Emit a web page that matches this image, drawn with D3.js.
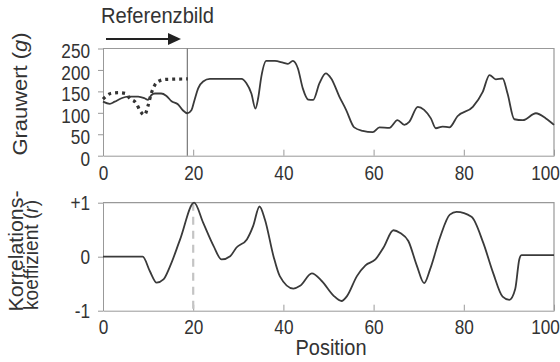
<!DOCTYPE html>
<html>
<head>
<meta charset="utf-8">
<script src="https://cdn.jsdelivr.net/npm/d3@7"></script>
<style>
  body { margin: 0; background: #fff; }
  svg { display: block; font-family: "Liberation Sans", Arial, sans-serif; }
  .axis path, .axis line { stroke: #999; }
  .axis text { fill: #333; font-size: 20px; font-family: inherit; }
</style>
</head>
<body>
<svg id="chart" width="560" height="362"></svg>
<script>
// grey value of the image row (solid) and the reference window (dotted)
var grauPos = [0, 1.5, 2.6, 4.1, 5.5, 7.8, 9.2, 10, 10.7, 11.5, 12.9, 14, 15.2, 16.6, 17.7, 18.7, 19.6, 20.3, 21.1, 22.2, 23.7,
    30.7, 31.8, 32.9, 33.8, 34.4, 35.1, 36.2, 38.1, 39.9, 41, 42.1, 43.2, 44.3, 45.5, 46.6, 48, 49.4,
    50.6, 52.4, 53.9, 55.7, 57.6, 59.8, 61.3, 63.5, 65.3, 66.8, 67.9, 69.8, 71.2, 72.7, 73.8, 75.3, 76.8,
    78.6, 82, 84.2, 85.7, 87.1, 88.6, 89.7, 91.2, 93.1, 96, 98.2, 100];
var grauWert = [126, 121, 126, 134, 138, 138, 134, 130, 141, 145, 145, 140, 127, 120, 106, 99, 106, 130, 157, 173, 179,
    179, 169, 145, 110, 134, 184, 221, 221, 217, 214, 221, 204, 157, 131, 130, 169, 192,
    180, 138, 107, 66, 58, 55, 66, 65, 83, 72, 79, 114, 107, 87, 64, 68, 66,
    92, 114, 149, 188, 178, 180, 145, 85, 83, 99, 87, 72];
var refPos = [0, 1.7, 3.5, 5, 5.9, 7.4, 8.1, 9.2, 10, 10.7, 11.5, 12.6, 14, 18.8];
var refWert = [132, 145, 147, 145, 134, 122, 107, 95, 117, 145, 165, 175, 178, 179];
var refX = 18.7;

// correlation coefficient per position
var korrPos = [0, 8.8, 10.4, 11.9, 13.4, 14.9, 17.1, 20.2, 22.2, 24.5, 26.3, 28.2, 29.6, 31.9, 33.3, 34.7, 35.9, 37.8, 39.2,
    42.2, 43.7, 46.3, 48.5, 51.1, 52.9, 54.1, 56.3, 58.2, 60.4, 62.2, 64.4, 65.9, 67.7, 69.6, 71.2, 72.5,
    74.7, 76.9, 78.4, 81.7, 84.3, 86.5, 88.6, 90.1, 91.4, 92.3, 92.8, 100];
var korrWert = [0, 0, -0.27, -0.48, -0.42, -0.17, 0.32, 1.0, 0.63, 0.2, -0.05, 0.01, 0.17, 0.32, 0.57, 0.93, 0.69, 0.01, -0.36,
    -0.59, -0.54, -0.31, -0.45, -0.72, -0.82, -0.73, -0.36, -0.16, -0.05, 0.17, 0.49, 0.44, 0.29, -0.17, -0.49, -0.24,
    0.35, 0.78, 0.83, 0.74, 0.26, -0.3, -0.74, -0.8, -0.6, -0.05, 0.03, 0.03];

var xTicks = [0, 20, 40, 60, 80, 100];
var grauTicks = [0, 50, 100, 150, 200, 250];
var korrTicks = [-1, 0, 1];
var korrLabels = {"-1": "-1", "0": "0", "1": "+1"};

var svg = d3.select('#chart');

var x = d3.scaleLinear().domain([0, 100]).range([103, 554]);
var yTop = d3.scaleLinear().domain([0, 250]).range([155.7, 48.5]);
var yBot = d3.scaleLinear().domain([-1, 1]).range([310.7, 202.7]);

function zip(a, b) {
    return a.map(function(d, i) { return [d, b[i]]; });
}

// the original uses a condensed face, squeeze the glyphs a bit
function condense(sel, f) {
    sel.each(function() {
        var w = this.getComputedTextLength();
        d3.select(this).attr('textLength', w * f).attr('lengthAdjust', 'spacingAndGlyphs');
    });
}

/* frames: top and right border */
function frame(y) {
    svg.append('path')
        .attr('d', 'M' + x(0) + ',' + y.range()[1] + 'H' + x(100) + 'V' + y.range()[0])
        .attr('fill', 'none').attr('stroke', '#999').attr('stroke-width', 1.2);
}
frame(yTop);
frame(yBot);

/* top chart axes */
svg.append('g').attr('class', 'axis x-ax')
    .attr('transform', 'translate(0,' + yTop(0) + ')')
    .call(d3.axisBottom(x).tickValues(xTicks).tickSizeInner(-6).tickSizeOuter(0).tickPadding(10));
svg.append('g').attr('class', 'axis y-top')
    .attr('transform', 'translate(' + x(0) + ',0)')
    .call(d3.axisLeft(yTop).tickValues(grauTicks).tickSizeInner(5).tickSizeOuter(0).tickPadding(8));
svg.selectAll('.y-top text').attr('dy', '0.47em');

/* bottom chart axes */
svg.append('g').attr('class', 'axis x-ax')
    .attr('transform', 'translate(0,' + yBot(-1) + ')')
    .call(d3.axisBottom(x).tickValues(xTicks).tickSizeInner(-6).tickSizeOuter(0).tickPadding(9));
svg.append('g').attr('class', 'axis')
    .attr('transform', 'translate(' + x(0) + ',0)')
    .call(d3.axisLeft(yBot).tickValues(korrTicks).tickSizeInner(5).tickSizeOuter(0).tickPadding(8)
        .tickFormat(function(d) { return korrLabels[d]; }));

svg.selectAll('.axis text').call(condense, 0.86);
// last label sits left of its tick so it stays on the page
svg.selectAll('.x-ax .tick text').filter(function(d) { return d === 100; }).attr('x', -9);

/* reference position markers */
svg.append('line')
    .attr('x1', x(refX)).attr('x2', x(refX))
    .attr('y1', yTop(250)).attr('y2', yTop(0))
    .attr('stroke', '#777').attr('stroke-width', 1.2);
svg.append('line')
    .attr('x1', x(20)).attr('x2', x(20))
    .attr('y1', yBot(1)).attr('y2', yBot(-1))
    .attr('stroke', '#c4c4c4').attr('stroke-width', 2.2)
    .attr('stroke-dasharray', '8,6');

/* data lines */
var lineTop = d3.line().x(function(d) { return x(d[0]); }).y(function(d) { return yTop(d[1]); })
    .curve(d3.curveMonotoneX);
var lineBot = d3.line().x(function(d) { return x(d[0]); }).y(function(d) { return yBot(d[1]); })
    .curve(d3.curveMonotoneX);

svg.append('path')
    .datum(zip(refPos, refWert))
    .attr('d', lineTop)
    .attr('fill', 'none').attr('stroke', '#333').attr('stroke-width', 3.2)
    .attr('stroke-dasharray', '3,4');
svg.append('path')
    .datum(zip(grauPos, grauWert))
    .attr('d', lineTop)
    .attr('fill', 'none').attr('stroke', '#3a3a3a').attr('stroke-width', 1.8);
svg.append('path')
    .datum(zip(korrPos, korrWert))
    .attr('d', lineBot)
    .attr('fill', 'none').attr('stroke', '#3a3a3a').attr('stroke-width', 1.8);

/* titles */
svg.append('text')
    .attr('x', 101).attr('y', 23)
    .attr('font-size', 22).attr('fill', '#333')
    .attr('textLength', 113).attr('lengthAdjust', 'spacingAndGlyphs')
    .text('Referenzbild');

// arrow under the title
svg.append('line')
    .attr('x1', 106).attr('x2', 170).attr('y1', 39).attr('y2', 39)
    .attr('stroke', '#222').attr('stroke-width', 2);
svg.append('path')
    .attr('d', 'M168,33L181,39L168,45Z')
    .attr('fill', '#222');

function vTitle(cx, cy, len, parts) {
    var t = svg.append('text')
        .attr('transform', 'translate(' + cx + ',' + cy + ') rotate(-90)')
        .attr('text-anchor', 'middle')
        .attr('font-size', 21).attr('fill', '#333')
        .attr('textLength', len).attr('lengthAdjust', 'spacingAndGlyphs');
    parts.forEach(function(p) {
        t.append('tspan').attr('font-style', p[1] ? 'italic' : null).text(p[0]);
    });
}
vTitle(27, 94, 123, [['Grauwert ('], ['g', 1], [')']]);
vTitle(22.5, 251, 121, [['Korrelations-']]);
vTitle(38, 255, 110, [['koeffizient ('], ['r', 1], [')']]);

svg.append('text')
    .attr('x', 331).attr('y', 355)
    .attr('text-anchor', 'middle')
    .attr('font-size', 22).attr('fill', '#333')
    .attr('textLength', 71).attr('lengthAdjust', 'spacingAndGlyphs')
    .text('Position');
</script>
</body>
</html>
